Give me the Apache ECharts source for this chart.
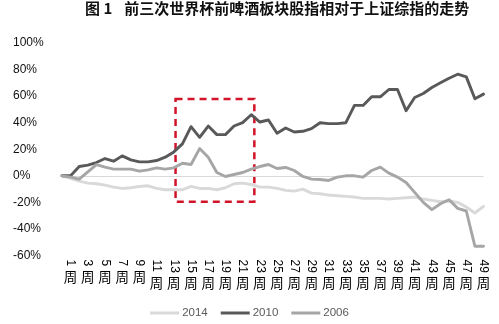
<!DOCTYPE html>
<html>
<head>
<meta charset="utf-8">
<script src="https://cdn.jsdelivr.net/npm/echarts@6/dist/echarts.min.js"></script>
<style>html,body{margin:0;padding:0;background:#fff}#c{width:499px;height:324px}</style>
</head>
<body>
<div id="c"></div>
<script>
const titleLead = '图 1';
const titleText = '前三次世界杯前啤酒板块股指相对于上证综指的走势';
const weeks = [0,1,2,3,4,5,6,7,8,9,10,11,12,13,14,15,16,17,18,19,20,21,22,23,24,25,26,27,28,29,30,31,32,33,34,35,36,37,38,39,40,41,42,43,44,45,46,47,48,49];
const labelWeeks = [1,3,5,7,9,11,13,15,17,19,21,23,25,27,29,31,33,35,37,39,41,43,45,47,49];
const weekUnit = '周';
const seriesNames = ['2014','2010','2006'];
const s2014 = [0,-2,-4,-5.5,-6,-7,-8.5,-9.5,-9,-8,-7.5,-9.5,-10.5,-10.5,-10.5,-8,-9.5,-9.5,-10.5,-9,-6,-5.5,-6.5,-8.5,-8.5,-9.5,-11,-11.5,-10,-13,-13.5,-14.5,-15,-15.5,-16,-17,-17,-17,-17.5,-17,-16.5,-16,-17.5,-18.5,-19.5,-19,-20,-23.5,-28,-23];
const s2010 = [0,0,7,8,10,13,11,15,12,10.5,10.5,11.5,14,18,24,37,29,37.5,31,31,37.5,40,46,40.5,42,32,36,33,33.5,35.5,40,39.3,39.3,40,53,53,59.5,59.5,65,65,49,59,62,66.5,70,73.5,76.5,74.5,58,61.5];
const s2006 = [0,-1,-2.5,3,8.5,6.5,5,5,5,3.5,4.5,6,5,6,9.5,8.5,20.5,14,2.5,-0.5,1,2.5,5,7,8.5,5.5,6.3,4,-0.5,-2.5,-2.8,-3.5,-1,0,0,-1,4,6.5,2,-1,-5,-12.5,-20,-25.5,-21,-18,-24.5,-26.5,-53,-53];
const yTicks = {min:-60, max:100, step:20};
const boxFrom = [13.2, 57.8];
const boxTo = [22.36, -19.5];

const colors = ['#d9d9d9','#595959','#a6a6a6'];
const chart = echarts.init(document.getElementById('c'), null, {renderer:'canvas'});
const pairs = arr => weeks.map((w,i)=>[w, arr[i]]);
const isLabel = v => labelWeeks.indexOf(v) >= 0;

const lineSeries = (name, arr, color, extra) => Object.assign({
  name, type:'line', data: pairs(arr), symbol:'none', showSymbol:false,
  lineStyle:{color, width:2.9, cap:'round', join:'round'}, itemStyle:{color},
  emphasis:{disabled:true}, animation:false
}, extra || {});

chart.setOption({
  animation:false,
  backgroundColor:'#fff',
  title:{
    text:'{a|'+titleLead+'}{b|'+titleText+'}',
    left:85, top:1, padding:0,
    textStyle:{
      rich:{
        a:{fontFamily:'Noto Sans CJK SC', fontWeight:'bold', fontSize:15, color:'#111'},
        b:{fontFamily:'Noto Sans CJK SC', fontWeight:'bold', fontSize:15, color:'#111', padding:[0,0,0,12]}
      }
    }
  },
  grid:{left:62, right:15.5, top:43, bottom:68.5, outerBoundsMode:'none', containLabel:false},
  legend:{
    data:seriesNames, left:'center', top:302, icon:'rect', itemWidth:29, itemHeight:3, itemGap:13,
    textStyle:{fontFamily:'Liberation Sans', fontSize:11.5, color:'#595959', padding:[0,0,0,-2]}
  },
  xAxis:[
    {type:'value', min:0, max:49, interval:1, position:'bottom', offset:0,
     axisLine:{show:false}, axisTick:{show:false}, splitLine:{show:false},
     axisLabel:{rotate:-90, margin:4, fontFamily:'Liberation Sans', fontSize:12, color:'#000',
       formatter:v => isLabel(v) ? String(v) : ''}},
    {type:'value', min:0, max:49, interval:1, position:'bottom', offset:0,
     axisLine:{show:false}, axisTick:{show:false}, splitLine:{show:false},
     axisLabel:{margin:15, fontFamily:'Noto Sans CJK SC', fontSize:13.5, color:'#000',
       formatter:v => isLabel(v) ? (v < 10 ? '{a|'+weekUnit+'}' : '{b|'+weekUnit+'}') : '',
       rich:{
         a:{fontFamily:'Noto Sans CJK SC', fontSize:13.5, color:'#000'},
         b:{fontFamily:'Noto Sans CJK SC', fontSize:13.5, color:'#000', padding:[6,0,0,0]}
       }}}
  ],
  yAxis:{
    type:'value', min:yTicks.min, max:yTicks.max, interval:yTicks.step,
    axisLine:{show:false}, axisTick:{show:false}, splitLine:{show:false},
    axisLabel:{align:'left', margin:49, fontFamily:'Liberation Sans', fontSize:12, color:'#111',
      formatter:v => v + '%'}
  },
  series:[
    lineSeries(seriesNames[0], s2014, colors[0], {
      markLine:{silent:true, symbol:['none','none'], label:{show:false}, animation:false,
        lineStyle:{color:'#d9d9d9', width:1, type:'solid'}, data:[{yAxis:0}], z:1}
    }),
    lineSeries(seriesNames[1], s2010, colors[1]),
    lineSeries(seriesNames[2], s2006, colors[2], {
      markArea:{silent:true, animation:false,
        itemStyle:{color:'rgba(0,0,0,0)', borderColor:'#d2142a', borderWidth:2.5, borderType:[7,5]},
        data:[[{coord:boxFrom},{coord:boxTo}]]}
    })
  ]
});
</script>
</body>
</html>
